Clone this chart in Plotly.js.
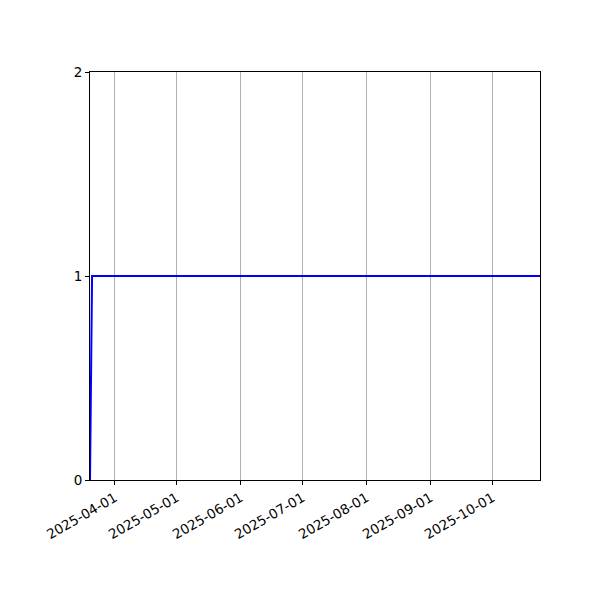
<!DOCTYPE html>
<html>
<head>
<meta charset="utf-8">
<script src="https://cdn.plot.ly/plotly-3.0.1.min.js"></script>
<style>
  body { margin: 0; padding: 0; background: #fff; }
  #chart { width: 600px; height: 600px; }
</style>
</head>
<body>
<div id="chart"></div>
<script>
// data
const dates = ['2025-03-20', '2025-03-21', '2025-10-24'];
const values = [0, 1, 1];

const monthTicks = ['2025-04-01', '2025-05-01', '2025-06-01', '2025-07-01',
  '2025-08-01', '2025-09-01', '2025-10-01'];
const yTicks = [0, 1, 2];

const trace = {
  x: dates,
  y: values,
  type: 'scatter',
  mode: 'lines',
  line: { color: '#0000ff', width: 2 },
  hoverinfo: 'skip'
};

const layout = {
  width: 600,
  height: 600,
  paper_bgcolor: '#ffffff',
  plot_bgcolor: '#ffffff',
  showlegend: false,
  font: { family: 'DejaVu Sans', size: 13.5, color: '#000000' },
  margin: { l: 90, r: 60, t: 72, b: 120, pad: 0 },
  xaxis: {
    type: 'date',
    range: ['2025-03-20', '2025-10-24'],
    tickmode: 'array',
    tickvals: monthTicks,
    ticktext: monthTicks,
    tickangle: -30,
    ticks: 'outside',
    ticklen: 4,
    tickwidth: 1,
    tickcolor: '#000',
    showgrid: true,
    gridcolor: '#b0b0b0',
    gridwidth: 1,
    zeroline: false,
    showline: true,
    linecolor: '#000',
    linewidth: 1,
    mirror: true
  },
  yaxis: {
    range: [0, 2],
    tickmode: 'array',
    tickvals: yTicks,
    ticks: 'outside',
    ticklen: 4,
    tickwidth: 1,
    tickcolor: '#000',
    showgrid: false,
    zeroline: false,
    showline: true,
    linecolor: '#000',
    linewidth: 1,
    mirror: true
  }
};

Plotly.newPlot('chart', [trace], layout, { staticPlot: true });
</script>
</body>
</html>
